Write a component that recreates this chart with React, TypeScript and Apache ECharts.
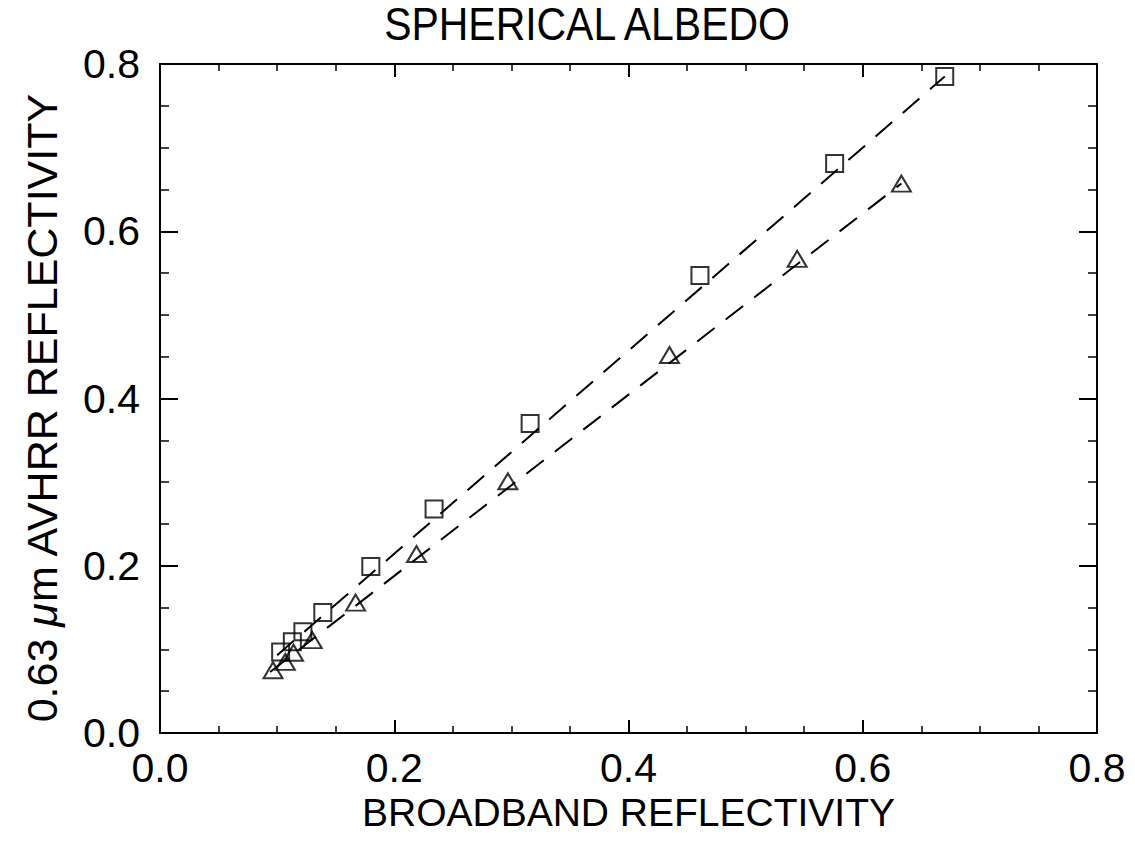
import React, { useEffect, useRef } from "react";
import * as echarts from "echarts";

// Spherical albedo: 0.63 µm AVHRR reflectivity against broadband reflectivity
const squareX = [0.103, 0.113, 0.122, 0.139, 0.18, 0.234, 0.316, 0.461, 0.576, 0.67];
const squareY = [0.097, 0.109, 0.121, 0.144, 0.199, 0.268, 0.37, 0.547, 0.681, 0.785];
const triangleX = [0.0965, 0.107, 0.114, 0.13, 0.167, 0.219, 0.297, 0.435, 0.544, 0.633];
const triangleY = [0.075, 0.085, 0.096, 0.111, 0.156, 0.214, 0.301, 0.452, 0.567, 0.657];

// Endpoints of the fitted dashed lines
const squareFitX = [0.1, 0.67];
const squareFitY = [0.093, 0.785];
const triangleFitX = [0.094, 0.633];
const triangleFitY = [0.073, 0.657];

const axisMin = 0;
const axisMax = 0.8;
const axisStep = 0.2;

const FONT = "'Liberation Sans', Arial, sans-serif";

const zip = (xs: number[], ys: number[]) => xs.map((x, i) => [x, ys[i]]);

export default function App() {
  const ref = useRef<HTMLDivElement>(null);

  useEffect(() => {
    if (!ref.current) return;
    const chart = echarts.init(ref.current, null, { renderer: "svg" });

    const frame = { show: true, onZero: false, lineStyle: { color: "#000", width: 2 } };
    const majorTick = (len: number) => ({
      show: true,
      inside: true,
      length: len,
      lineStyle: { color: "#000", width: 2 },
    });
    const minorTick = (len: number) => ({
      show: true,
      splitNumber: 4,
      length: len,
      lineStyle: { color: "#000", width: 1.5 },
    });
    const labelStyle = {
      color: "#000",
      fontFamily: FONT,
      fontSize: 41,
    };
    const base = {
      type: "value" as const,
      min: axisMin,
      max: axisMax,
      interval: axisStep,
      splitLine: { show: false },
      minorSplitLine: { show: false },
      axisLine: frame,
    };

    chart.setOption({
      animation: false,
      backgroundColor: "#fff",
      graphic: [
        {
          type: "text",
          x: 587,
          y: 1,
          scaleX: 0.89,
          style: {
            text: "SPHERICAL ALBEDO",
            fill: "#000",
            font: `46px ${FONT}`,
            textAlign: "center",
            textVerticalAlign: "top",
          },
        },
      ],
      grid: { left: 160, top: 64, right: 38, bottom: 109 },
      xAxis: [
        {
          ...base,
          position: "bottom",
          axisTick: majorTick(13),
          minorTick: minorTick(7),
          axisLabel: { ...labelStyle, margin: 14, formatter: (v: number) => v.toFixed(1) },
          name: "BROADBAND REFLECTIVITY",
          nameLocation: "middle",
          nameGap: 52,
          nameTextStyle: { color: "#000", fontFamily: FONT, fontSize: 39 },
        },
        {
          ...base,
          position: "top",
          axisTick: majorTick(13),
          minorTick: minorTick(7),
          axisLabel: { show: false },
        },
      ],
      yAxis: [
        {
          ...base,
          position: "left",
          axisTick: majorTick(18),
          minorTick: minorTick(9),
          axisLabel: { ...labelStyle, margin: 20, formatter: (v: number) => v.toFixed(1) },
          name: "0.63 {mu|μ}m AVHRR REFLECTIVITY",
          nameLocation: "middle",
          nameGap: 97,
          nameRotate: 90,
          nameTextStyle: {
            color: "#000",
            fontFamily: FONT,
            fontSize: 43,
            padding: [0, 18, 0, 0],
            rich: {
              mu: { color: "#000", fontFamily: FONT, fontSize: 43, fontStyle: "italic" },
            },
          },
        },
        {
          ...base,
          position: "right",
          axisTick: majorTick(18),
          minorTick: minorTick(9),
          axisLabel: { show: false },
        },
      ],
      series: [
        {
          type: "line",
          data: zip(squareFitX, squareFitY),
          showSymbol: false,
          symbol: "none",
          lineStyle: { color: "#000", width: 2, type: [22, 14] },
          silent: true,
        },
        {
          type: "line",
          data: zip(triangleFitX, triangleFitY),
          showSymbol: false,
          symbol: "none",
          lineStyle: { color: "#000", width: 2, type: [22, 14] },
          silent: true,
        },
        {
          type: "scatter",
          data: zip(squareX, squareY),
          symbol: "rect",
          symbolSize: 17,
          itemStyle: { color: "rgba(0,0,0,0)", borderColor: "#000", borderWidth: 2 },
        },
        {
          type: "scatter",
          data: zip(triangleX, triangleY),
          symbol: "triangle",
          symbolSize: [19, 16],
          itemStyle: { color: "rgba(0,0,0,0)", borderColor: "#000", borderWidth: 2 },
        },
      ],
    });

    return () => chart.dispose();
  }, []);

  return (
    <div
      ref={ref}
      style={{ position: "fixed", left: 0, top: 0, width: 1135, height: 842, background: "#fff" }}
    />
  );
}
